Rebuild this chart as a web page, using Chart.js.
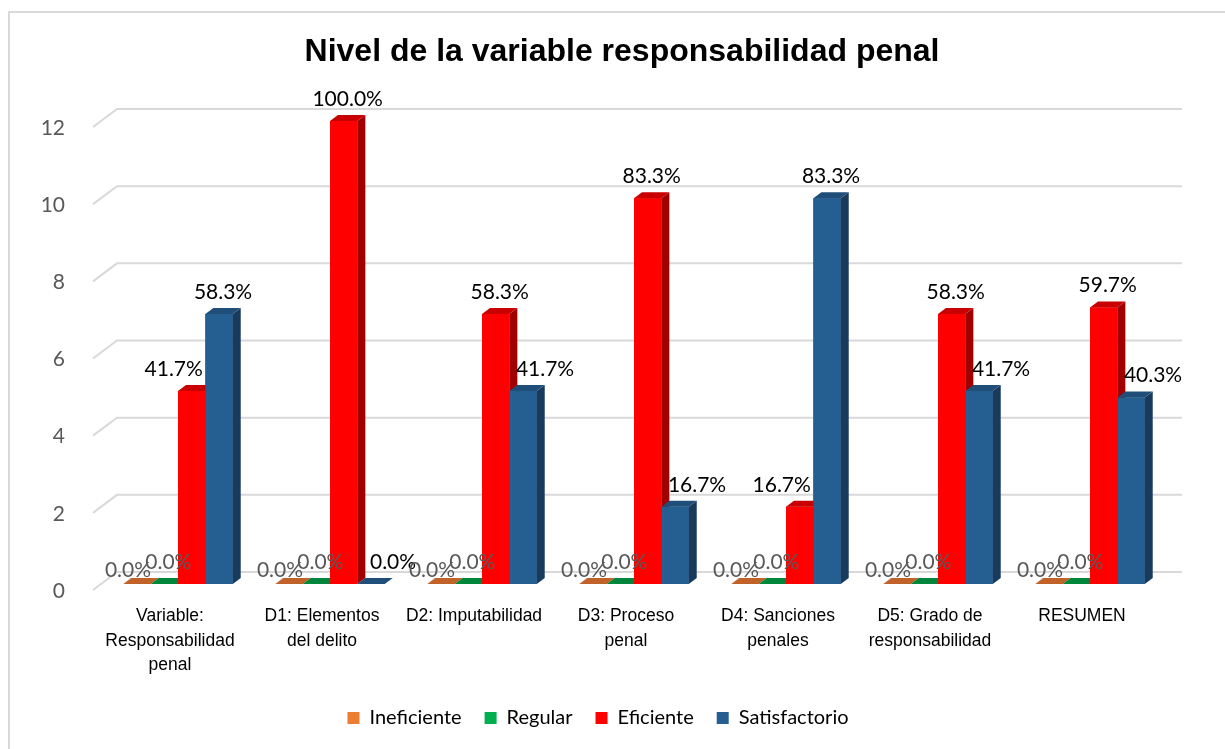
<!DOCTYPE html>
<html>
<head>
<meta charset="utf-8">
<script src="https://cdn.jsdelivr.net/npm/chart.js@4/dist/chart.umd.min.js"></script>
<style>
html,body{margin:0;padding:0;background:#fff;overflow:hidden;}
#wrap{position:absolute;left:0;top:0;width:1225px;height:749px;overflow:hidden;}
#frame{position:absolute;left:8px;top:11px;width:1300px;height:800px;border-left:2px solid #d9d9d9;border-top:2px solid #d9d9d9;}
canvas{position:absolute;left:0;top:0;}
</style>
</head>
<body>
<div id="wrap"><div id="frame"></div><canvas id="c" width="1225" height="749"></canvas></div>
<script>
// ---- data ----
const categories = [
  ["Variable:", "Responsabilidad", "penal"],
  ["D1: Elementos", "del delito"],
  ["D2: Imputabilidad"],
  ["D3: Proceso", "penal"],
  ["D4: Sanciones", "penales"],
  ["D5: Grado de", "responsabilidad"],
  ["RESUMEN"]
];
const seriesNames = ["Ineficiente", "Regular", "Eficiente", "Satisfactorio"];
const ineficiente   = [0, 0, 0, 0, 0, 0, 0];
const regular       = [0, 0, 0, 0, 0, 0, 0];
const eficiente     = [5, 12, 7, 10, 2, 7, 7.164];
const satisfactorio = [7, 0, 5, 2, 10, 5, 4.836];
const yMin = 0, yMax = 12, yStep = 2;
const titleText = "Nivel de la variable responsabilidad penal";

// ---- styles ----
const frontColors = ["#ED7D31", "#00B050", "#FF0000", "#255E91"];
const topColors   = ["#C0622A", "#00873C", "#C80000", "#1F4E79"];
const sideColors  = ["#A04A15", "#006B2E", "#A00000", "#1A3A5C"];
const labelColors = ["#595959", "#595959", "#000000", "#000000"];
const DX = 8, DY = 6;
const labelFont = "21px Lato, 'Noto Sans', sans-serif";

const seriesData = [ineficiente, regular, eficiente, satisfactorio];

const depthPlugin = {
  id: 'depth3d',
  afterLayout(chart) {
    const t = chart.titleBlock;
    if (t) { t.left += 24; t.right += 24; }
  },
  beforeDatasetsDraw(chart) {
    const ctx = chart.ctx, a = chart.chartArea, ys = chart.scales.y;
    ctx.save();
    ctx.strokeStyle = '#d9d9d9';
    ctx.lineWidth = 2;
    ys.ticks.forEach(t => {
      const y = ys.getPixelForValue(t.value);
      ctx.beginPath();
      ctx.moveTo(a.left - 9, y + 6);
      ctx.lineTo(a.left + 15, y - 12);
      ctx.lineTo(a.right + 16, y - 12);
      ctx.stroke();
    });
    ctx.restore();
  },
  afterDatasetsDraw(chart) {
    const ctx = chart.ctx;
    const n = chart.data.datasets.length;
    ctx.save();
    // bars in painter order, left to right
    for (let i = 0; i < n; i++) {
      const meta = chart.getDatasetMeta(i);
      meta.data.forEach(bar => {
        const {x, y, base, width} = bar.getProps(['x', 'y', 'base', 'width'], true);
        const l = x - width / 2, r = x + width / 2;
        bar.draw(ctx, chart.chartArea);
        if (base - y > 0.5) {
          ctx.fillStyle = sideColors[i];
          ctx.beginPath();
          ctx.moveTo(r, y); ctx.lineTo(r + DX, y - DY); ctx.lineTo(r + DX, base - DY); ctx.lineTo(r, base);
          ctx.closePath(); ctx.fill();
        }
        ctx.fillStyle = topColors[i];
        ctx.beginPath();
        ctx.moveTo(l, y); ctx.lineTo(l + DX, y - DY); ctx.lineTo(r + DX, y - DY); ctx.lineTo(r, y);
        ctx.closePath(); ctx.fill();
      });
    }
    // data labels
    ctx.font = labelFont;
    ctx.textAlign = 'center';
    ctx.textBaseline = 'middle';
    const nc = chart.data.labels.length;
    for (let j = 0; j < nc; j++) {
      const vals = chart.data.datasets.map(d => d.data[j]);
      const total = vals.reduce((s, v) => s + v, 0);
      for (let i = 0; i < n; i++) {
        const bar = chart.getDatasetMeta(i).data[j];
        const {x, y, base} = bar.getProps(['x', 'y', 'base'], true);
        const v = vals[i];
        const prev = i > 0 ? vals[i - 1] : null;
        const next = i < n - 1 ? vals[i + 1] : null;
        let cx = x + DX / 2, cy = y - 22;
        if (v === 0 && next === 0) { cx = x - 9; cy = base - 14; }
        else if (v > 0 && next !== null && next > v) { cx = x - 18; }
        else if (prev !== null && prev > v) { cx = x + 22; }
        const txt = (total ? v / total * 100 : 0).toFixed(1) + '%';
        ctx.fillStyle = labelColors[i];
        ctx.fillText(txt, cx, cy);
      }
    }
    ctx.restore();
  }
};

new Chart(document.getElementById('c'), {
  type: 'bar',
  data: {
    labels: categories,
    datasets: seriesNames.map((name, i) => ({
      label: name,
      data: seriesData[i],
      backgroundColor: frontColors[i],
      borderWidth: 0,
      categoryPercentage: 0.72,
      barPercentage: 1.0
    }))
  },
  options: {
    responsive: false,
    animation: false,
    devicePixelRatio: 1,
    layout: { padding: { left: 30, right: 59, top: 20, bottom: 11 } },
    plugins: {
      title: {
        display: true,
        text: titleText,
        color: '#000',
        font: { family: "'Liberation Sans', Arial, sans-serif", size: 32, weight: 'bold', lineHeight: 1.2 },
        padding: { top: 12.8, bottom: 49.8 }
      },
      legend: {
        position: 'bottom',
        labels: {
          boxWidth: 12, boxHeight: 12, padding: 23, color: '#000',
          font: { family: "Lato, 'Noto Sans', sans-serif", size: 20 }
        }
      },
      tooltip: { enabled: false }
    },
    scales: {
      x: {
        grid: { display: false },
        border: { display: false },
        ticks: {
          color: '#000', autoSkip: false, maxRotation: 0, padding: 12, labelOffset: -8,
          font: { family: "'Liberation Sans', Arial, sans-serif", size: 17.5, lineHeight: 1.4 }
        },
        afterFit(s) { s.height = 101; }
      },
      y: {
        min: yMin, max: yMax,
        grid: { display: false },
        border: { display: false },
        ticks: {
          stepSize: yStep, color: '#595959', padding: 29, labelOffset: 7,
          font: { family: "Lato, 'Noto Sans', sans-serif", size: 21 }
        },
        afterFit(s) { s.width = 72; }
      }
    }
  },
  plugins: [depthPlugin]
});
</script>
</body>
</html>
